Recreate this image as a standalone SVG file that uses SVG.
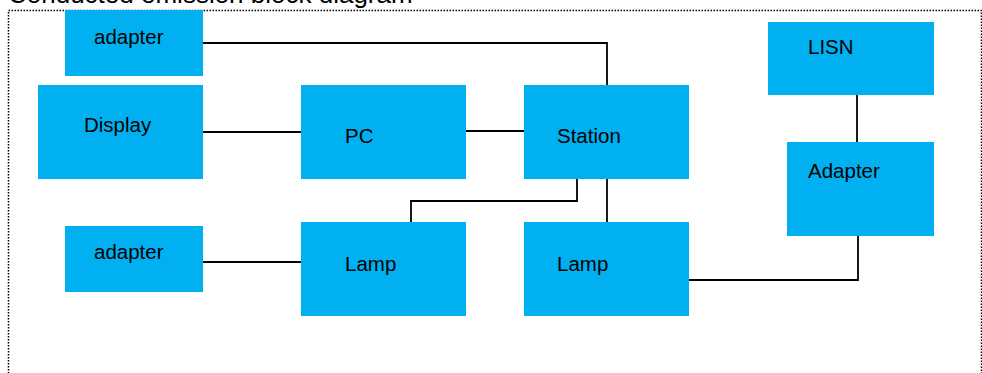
<svg xmlns="http://www.w3.org/2000/svg" width="982" height="373" viewBox="0 0 982 373">
<style>
.box{fill:#00B0F0}
.lbl{font-family:"Liberation Sans",Arial,sans-serif;font-size:20.5px;fill:#000}
.conn{fill:none;stroke:#000;stroke-width:1.8}
</style>
<rect width="982" height="373" fill="#fff"/>
<text x="8" y="3" style="font-family:'Liberation Sans',Arial,sans-serif;font-size:26px;fill:#000">Conducted emission block diagram</text>
<rect x="8.5" y="10.5" width="973" height="380" fill="none" stroke="#000" stroke-width="1.5" stroke-dasharray="1.5 1.5"/>
<g id="connectors">
<polyline class="conn" points="203,43 607,43 607,85"/>
<line class="conn" x1="203" y1="132" x2="301" y2="132"/>
<line class="conn" x1="466" y1="131" x2="524" y2="131"/>
<polyline class="conn" points="577,179 577,201 411,201 411,222"/>
<line class="conn" x1="607" y1="179" x2="607" y2="222"/>
<line class="conn" x1="857" y1="95" x2="857" y2="142"/>
<polyline class="conn" points="858,236 858,280 689,280"/>
<line class="conn" x1="203" y1="262" x2="301" y2="262"/>
</g>
<g id="adapter-top"><rect class="box" x="65" y="10" width="138" height="66"/><text class="lbl" x="94" y="44">adapter</text></g>
<g id="display"><rect class="box" x="38" y="85" width="165" height="94"/><text class="lbl" x="84" y="132">Display</text></g>
<g id="pc"><rect class="box" x="301" y="85" width="165" height="94"/><text class="lbl" x="345" y="143">PC</text></g>
<g id="station"><rect class="box" x="524" y="85" width="165" height="94"/><text class="lbl" x="557" y="143">Station</text></g>
<g id="lisn"><rect class="box" x="768" y="22" width="166" height="73"/><text class="lbl" x="808" y="54">LISN</text></g>
<g id="adapter-right"><rect class="box" x="787" y="142" width="147" height="94"/><text class="lbl" x="808" y="178">Adapter</text></g>
<g id="adapter-bottom"><rect class="box" x="65" y="226" width="138" height="66"/><text class="lbl" x="94" y="259">adapter</text></g>
<g id="lamp-left"><rect class="box" x="301" y="222" width="165" height="94"/><text class="lbl" x="345" y="271">Lamp</text></g>
<g id="lamp-right"><rect class="box" x="524" y="222" width="165" height="94"/><text class="lbl" x="557" y="271">Lamp</text></g>
</svg>
